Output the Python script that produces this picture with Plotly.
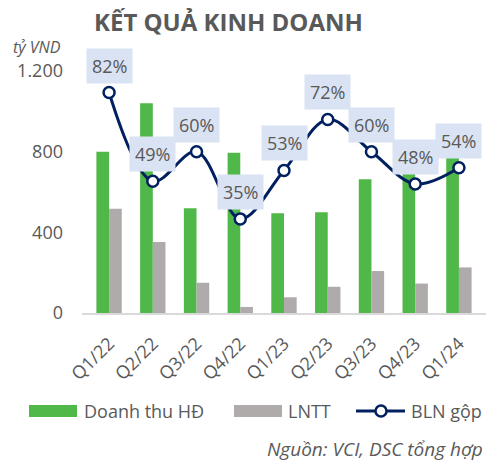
import plotly.graph_objects as go

categories = ["Q1/22", "Q2/22", "Q3/22", "Q4/22", "Q1/23", "Q2/23", "Q3/23", "Q4/23", "Q1/24"]
doanh_thu = [800, 1040, 520, 795, 495, 500, 663, 700, 780]
lntt = [517, 352, 150, 30, 78, 130, 208, 146, 226]
bln_gop = [0.82, 0.49, 0.60, 0.35, 0.53, 0.72, 0.60, 0.48, 0.54]
y_tickvals = [0, 400, 800, 1200]
y_ticktext = ["0", "400", "800", "1.200"]

GREEN = "#50b848"
GREY = "#afabab"
NAVY = "#002060"
TXT = "#595959"
FONT = "Open Sans"

fig = go.Figure()
fig.add_trace(go.Bar(x=categories, y=doanh_thu, name="Doanh thu HĐ",
                     marker=dict(color=GREEN, line=dict(width=0)), hoverinfo="skip"))
fig.add_trace(go.Bar(x=categories, y=lntt, name="LNTT",
                     marker=dict(color=GREY, line=dict(width=0)), hoverinfo="skip"))
fig.add_trace(go.Scatter(x=categories, y=bln_gop, name="BLN gộp", yaxis="y2",
                         mode="lines+markers", hoverinfo="skip",
                         line=dict(color=NAVY, width=3, shape="spline", smoothing=1),
                         marker=dict(symbol="circle", size=11, color="white",
                                     line=dict(color=NAVY, width=2.5))))

for c, v in zip(categories, bln_gop):
    fig.add_annotation(x=c, y=v, yref="y2", text=f"{round(v*100)}%",
                       showarrow=False, yshift=27, bgcolor="#dae3f3",
                       borderpad=5, font=dict(family=FONT, size=18, color=TXT))

# plot area occupies screen px 82..486 horizontally and 71..313 vertically
def px_x(p):
    return (p - 82) / 404

def px_y(p):
    return (313 - p) / 242

fig.add_annotation(text="<b>KẾT QUẢ KINH DOANH</b>", xref="paper", yref="paper",
                   x=px_x(228), y=px_y(21), xanchor="center", yanchor="middle",
                   showarrow=False, font=dict(family=FONT, size=24, color=TXT))
fig.add_annotation(text="<i>tỷ VND</i>", xref="paper", yref="paper",
                   x=px_x(63), y=px_y(47), xanchor="right", yanchor="middle",
                   showarrow=False, font=dict(family=FONT, size=16, color=TXT))
fig.add_annotation(text="<i>Nguồn: VCI, DSC tổng hợp</i>", xref="paper", yref="paper",
                   x=px_x(485), y=px_y(449), xanchor="right", yanchor="middle",
                   showarrow=False, font=dict(family=FONT, size=19, color=TXT))

# Custom legend
ly = 411
fig.add_shape(type="rect", xref="paper", yref="paper", x0=px_x(29), x1=px_x(77),
              y0=px_y(ly + 6), y1=px_y(ly - 6), fillcolor=GREEN, line=dict(width=0))
fig.add_shape(type="rect", xref="paper", yref="paper", x0=px_x(234), x1=px_x(282),
              y0=px_y(ly + 6), y1=px_y(ly - 6), fillcolor=GREY, line=dict(width=0))
fig.add_shape(type="line", xref="paper", yref="paper", x0=px_x(356), x1=px_x(405),
              y0=px_y(ly), y1=px_y(ly), line=dict(color=NAVY, width=3))
fig.add_shape(type="circle", xref="paper", yref="paper", x0=px_x(375.5), x1=px_x(386.5),
              y0=px_y(ly + 5.5), y1=px_y(ly - 5.5), fillcolor="white",
              line=dict(color=NAVY, width=2.5))
for txt, xp in [("Doanh thu HĐ", 82), ("LNTT", 286), ("BLN gộp", 409)]:
    fig.add_annotation(text=txt, xref="paper", yref="paper", x=px_x(xp), y=px_y(ly),
                       xanchor="left", yanchor="middle", showarrow=False,
                       font=dict(family=FONT, size=18, color=TXT))

fig.update_layout(
    width=486, height=465,
    margin=dict(l=82, r=0, t=71, b=152, autoexpand=False),
    paper_bgcolor="white", plot_bgcolor="white",
    barmode="group", bargap=0.42, bargroupgap=0,
    showlegend=False, hovermode=False,
    font=dict(family=FONT, color=TXT),
    xaxis=dict(tickangle=-45, tickfont=dict(family=FONT, size=18, color=TXT),
               showline=True, linecolor="#d9d9d9", linewidth=2, ticks="",
               showgrid=False, ticklabelstandoff=11, automargin=False),
    yaxis=dict(range=[0, 1200], tickvals=y_tickvals, ticktext=y_ticktext,
               tickfont=dict(family=FONT, size=18, color=TXT), showgrid=False,
               zeroline=False, showline=False, ticks="", ticklabelstandoff=18,
               automargin=False),
    yaxis2=dict(range=[0, 0.9], overlaying="y", side="right", visible=False,
                automargin=False),
)

fig.write_html("out.html", config={"displayModeBar": False, "staticPlot": True},
               post_script="document.body.style.margin='0';document.body.style.overflow='hidden';")
